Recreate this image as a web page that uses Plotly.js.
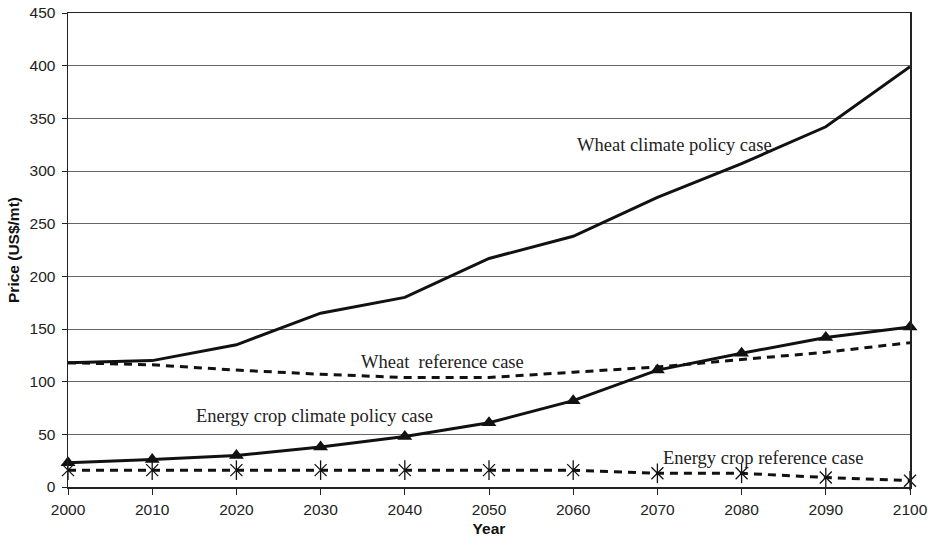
<!DOCTYPE html>
<html>
<head>
<meta charset="utf-8">
<script src="https://cdn.plot.ly/plotly-3.0.1.min.js"></script>
<style>html,body{margin:0;padding:0;background:#fff}#chart{width:933px;height:546px}</style>
</head>
<body>
<div id="chart"></div>
<script>
const years = [2000, 2010, 2020, 2030, 2040, 2050, 2060, 2070, 2080, 2090, 2100];
const wheatClimatePolicy = [118, 120, 135, 165, 180, 217, 238, 275, 307, 342, 399];
const wheatReference = [118, 116, 111, 107, 104, 104, 109, 114, 121, 128, 137];
const energyClimatePolicy = [23, 26, 30, 38, 48, 61, 82, 111, 127, 142, 152];
const energyReference = [16, 16, 16, 16, 16, 16, 16, 13, 13, 9, 6];

const seriesLabels = ["Wheat climate policy case", "Wheat  reference case", "Energy crop climate policy case", "Energy crop reference case"];
const labelX = [2072, 2044.5, 2029.3, 2082.6];
const labelY = [325, 119, 67, 27.5];

const black = '#111';
const dash = '8px,6px';

const traces = [
  {x: years, y: wheatClimatePolicy, mode: 'lines', line: {color: black, width: 3}, cliponaxis: false},
  {x: years, y: wheatReference, mode: 'lines', line: {color: black, width: 3, dash: dash}, cliponaxis: false},
  {x: years, y: energyClimatePolicy, mode: 'lines+markers', line: {color: black, width: 3},
   marker: {symbol: 'triangle-up', size: 13, color: black}, cliponaxis: false},
  {x: years, y: energyReference, mode: 'lines+markers', line: {color: black, width: 3, dash: dash},
   marker: {symbol: 'x-thin-open', size: 12, color: black, line: {color: black, width: 1.3}}, cliponaxis: false},
  {x: years, y: energyReference, mode: 'markers',
   marker: {symbol: 'line-ns-open', size: 14, color: black, line: {color: black, width: 1.3}}, cliponaxis: false}
];

const annotations = seriesLabels.map((t, i) => ({
  x: labelX[i], y: labelY[i], xref: 'x', yref: 'y', text: t, showarrow: false,
  font: {family: 'Liberation Serif, Times New Roman, serif', size: 18.5, color: '#222'},
  xanchor: 'center', yanchor: 'middle'
}));

const sans = 'Liberation Sans, Arial, sans-serif';

const layout = {
  width: 933, height: 546,
  margin: {l: 68, r: 23, t: 13, b: 59},
  paper_bgcolor: '#fff', plot_bgcolor: '#fff',
  showlegend: false,
  font: {family: sans, size: 15.5, color: '#222'},
  xaxis: {
    range: [2000, 2100], tickmode: 'linear', tick0: 2000, dtick: 10,
    showgrid: false, zeroline: false, showline: true, linecolor: '#222', linewidth: 1.5, mirror: true,
    ticks: 'outside', ticklen: 6, tickcolor: '#222', ticklabelstandoff: 2,
    tickfont: {family: sans, size: 15.5, color: '#222'},
    title: {text: 'Year', font: {family: sans, size: 15.5, color: '#111', weight: 'bold'}, standoff: 6}
  },
  yaxis: {
    range: [0, 450], tickmode: 'linear', tick0: 0, dtick: 50,
    showgrid: true, gridcolor: '#666', gridwidth: 1, zeroline: false,
    showline: true, linecolor: '#222', linewidth: 1.5, mirror: true,
    ticks: 'outside', ticklen: 5, tickcolor: '#222', ticklabelstandoff: 3,
    tickfont: {family: sans, size: 15.5, color: '#222'},
    title: {text: 'Price (US$/mt)', font: {family: sans, size: 15.5, color: '#111', weight: 'bold'}, standoff: 6}
  },
  annotations: annotations
};

Plotly.newPlot('chart', traces, layout, {displayModeBar: false, staticPlot: true});
</script>
</body>
</html>
